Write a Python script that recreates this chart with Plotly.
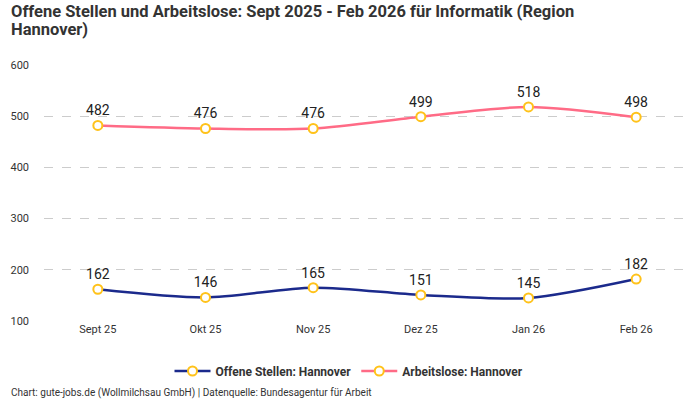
import plotly.graph_objects as go

months = ["Sept 25", "Okt 25", "Nov 25", "Dez 25", "Jan 26", "Feb 26"]
offene_stellen = [162, 146, 165, 151, 145, 182]
arbeitslose = [482, 476, 476, 499, 518, 498]

FONT = "Roboto"
marker_style = dict(size=9, color="white", line=dict(color="#FFC21A", width=2))

W, H = 700, 400
plot_left, plot_right, plot_top, plot_bottom = 44, 690, 65, 321
L, T = plot_left, plot_top
R, B = W - plot_right, H - plot_bottom
PW, PH = W - L - R, H - T - B


def px(x):
    return (x - L) / PW


def py(y):
    return (H - B - y) / PH


fig = go.Figure()
fig.add_trace(go.Scatter(
    x=months, y=offene_stellen, name="<b>Offene Stellen: Hannover</b>",
    mode="lines+markers+text", line=dict(color="#1B2A8C", width=2.5, shape="spline", smoothing=0.8),
    marker=marker_style, text=[str(v) for v in offene_stellen], textposition="top center",
    textfont=dict(size=14, color="#222", family=FONT), cliponaxis=False,
))
fig.add_trace(go.Scatter(
    x=months, y=arbeitslose, name="<b>Arbeitslose: Hannover</b>",
    mode="lines+markers+text", line=dict(color="#FF6B86", width=2.5, shape="spline", smoothing=0.8),
    marker=marker_style, text=[str(v) for v in arbeitslose], textposition="top center",
    textfont=dict(size=14, color="#222", family=FONT), cliponaxis=False,
))

title_font = dict(size=16.5, color="#333", family=FONT)
fig.update_layout(
    width=W, height=H,
    paper_bgcolor="white", plot_bgcolor="white",
    font=dict(family=FONT, color="#333", size=11),
    margin=dict(l=L, r=R, t=T, b=B, autoexpand=False),
    showlegend=True,
    legend=dict(orientation="h", x=px(349), xanchor="center", y=py(371), yanchor="middle",
                font=dict(size=12, color="#333", family=FONT), itemwidth=36,
                bgcolor="rgba(0,0,0,0)"),
    xaxis=dict(showgrid=False, showline=False, ticks="", range=[-0.5, 5.5],
               tickfont=dict(size=11, color="#333")),
    yaxis=dict(range=[100, 600], tickvals=[100, 200, 300, 400, 500, 600],
               showgrid=True, gridcolor="#CCCCCC", griddash="dash", gridwidth=1,
               zeroline=False, showline=False, ticklabelstandoff=14,
               tickfont=dict(size=11, color="#333")),
    annotations=[
        dict(
            text="<b>Offene Stellen und Arbeitslose: Sept 2025 - Feb 2026 für Informatik (Region</b>",
            xref="paper", yref="paper", x=px(9), xanchor="left", y=py(11), yanchor="middle",
            align="left", showarrow=False, font=title_font,
        ),
        dict(
            text="<b>Hannover)</b>",
            xref="paper", yref="paper", x=px(9), xanchor="left", y=py(29), yanchor="middle",
            align="left", showarrow=False, font=title_font,
        ),
        dict(
            text="Chart: gute-jobs.de (Wollmilchsau GmbH) | Datenquelle: Bundesagentur für Arbeit",
            xref="paper", yref="paper", x=px(9), xanchor="left", y=py(393), yanchor="middle",
            showarrow=False, font=dict(size=10, color="#333", family=FONT),
        ),
    ],
)

fig.write_html("out.html", config={"displayModeBar": False},
               post_script="document.body.style.margin='0';")
